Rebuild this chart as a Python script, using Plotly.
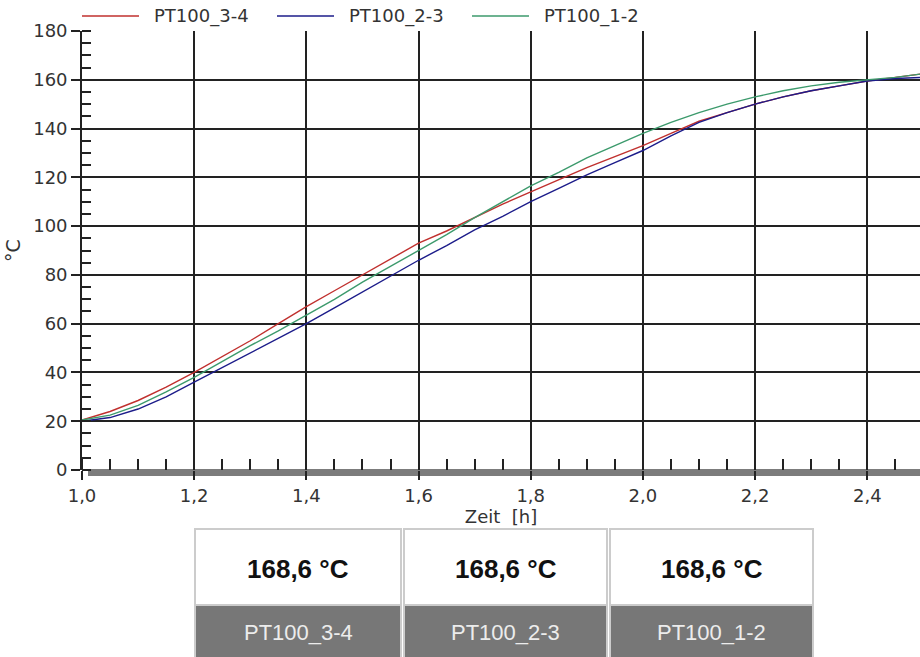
import plotly.graph_objects as go

# ---- data ----
zeit_h = [1.00, 1.05, 1.10, 1.15, 1.20, 1.25, 1.30, 1.35, 1.40, 1.45, 1.50,
          1.55, 1.60, 1.65, 1.70, 1.75, 1.80, 1.85, 1.90, 1.95, 2.00,
          2.05, 2.10, 2.15, 2.20, 2.25, 2.30, 2.35, 2.40, 2.45, 2.50]
pt100_3_4 = [20.5, 24, 28.5, 34, 40, 46.5, 53, 60, 67, 73.5, 80,
             86.5, 93, 98, 103.5, 109, 114, 119, 124, 128.5, 133,
             138, 143, 146.5, 150, 153, 155.5, 157.5, 159.5, 161, 162.5]
pt100_2_3 = [20, 21.5, 25, 30, 36, 42, 48, 54, 60, 66.5, 73,
             79.5, 86, 92, 98.5, 104, 110, 115.5, 121, 126, 131,
             137, 142.5, 146.5, 150, 153, 155.5, 157.5, 159.5, 160.5, 161]
pt100_1_2 = [20.5, 22.5, 26.5, 32, 38, 44.5, 51, 57, 63.5, 70, 77,
             83.5, 90, 96.5, 103.5, 110, 116.5, 122, 128, 133, 138,
             142.5, 146.5, 150, 153, 155.5, 157.5, 159, 160, 161, 162.5]
series_names = ["PT100_3-4", "PT100_2-3", "PT100_1-2"]
series_colors = ["#c0302e", "#1c1c8a", "#3c9a6c"]
table_values = ["168,6 °C", "168,6 °C", "168,6 °C"]
x_ticks = [1.0, 1.2, 1.4, 1.6, 1.8, 2.0, 2.2, 2.4]
y_ticks = [0, 20, 40, 60, 80, 100, 120, 140, 160, 180]

fig = go.Figure()
for name, ys, col in zip(series_names, [pt100_3_4, pt100_2_3, pt100_1_2], series_colors):
    fig.add_trace(go.Scatter(x=zeit_h, y=ys, mode="lines", name=name,
                             line=dict(color=col, width=1.4), showlegend=False))

W, H = 920, 657
L, R, T, B = 82, 0, 31, 187
pw, ph = W - L - R, H - T - B


def px_x(p):
    return (p - L) / pw


def px_y(p):
    return (H - B - p) / ph


shapes = []
annotations = []

# gray axis bar under the zero line
shapes.append(dict(type="rect", xref="paper", yref="paper", layer="below",
                   x0=px_x(88), x1=1.0, y0=px_y(476), y1=px_y(469),
                   fillcolor="#7c7c7c", line=dict(width=0)))

# legend (line sample + label) at the top
legend_x = [82, 277, 472]
for lx, name, col in zip(legend_x, series_names, series_colors):
    shapes.append(dict(type="line", xref="paper", yref="paper",
                       x0=px_x(lx), x1=px_x(lx + 57), y0=px_y(16), y1=px_y(16),
                       line=dict(color=col, width=1.3)))
    annotations.append(dict(xref="paper", yref="paper", x=px_x(lx + 70), y=px_y(16),
                            xanchor="left", yanchor="middle", text=name, showarrow=False,
                            font=dict(family="DejaVu Sans", size=18, color="#333")))

# value table below the chart
cells = [(195, 401), (404, 607), (610, 813)]
for (x0, x1), val, name in zip(cells, table_values, series_names):
    shapes.append(dict(type="rect", xref="paper", yref="paper",
                       x0=px_x(x0), x1=px_x(x1), y0=px_y(605), y1=px_y(529),
                       fillcolor="white", line=dict(color="#cccccc", width=2)))
    shapes.append(dict(type="rect", xref="paper", yref="paper",
                       x0=px_x(x0), x1=px_x(x1), y0=px_y(660), y1=px_y(605),
                       fillcolor="#777777", line=dict(color="#cccccc", width=2)))
    annotations.append(dict(xref="paper", yref="paper", x=px_x((x0 + x1) / 2), y=px_y(569),
                            xanchor="center", yanchor="middle",
                            text="<b>%s</b>" % val, showarrow=False,
                            font=dict(family="Liberation Sans, Arial", size=26, color="#111")))
    annotations.append(dict(xref="paper", yref="paper", x=px_x((x0 + x1) / 2), y=px_y(632),
                            xanchor="center", yanchor="middle",
                            text=name, showarrow=False,
                            font=dict(family="Liberation Sans, Arial", size=22, color="#ececec")))

fig.update_layout(
    width=W, height=H,
    margin=dict(l=L, r=R, t=T, b=B, pad=0),
    paper_bgcolor="white", plot_bgcolor="white",
    separators=",.",
    font=dict(family="DejaVu Sans, Verdana", size=18, color="#333"),
    showlegend=False,
    xaxis=dict(range=[1.0, 2.494], tickvals=x_ticks, tickformat=".1f",
               showgrid=True, gridcolor="#222", gridwidth=1.7,
               showline=False, zeroline=False,
               ticks="outside", ticklen=9, tickcolor="#222", tickwidth=1.7,
               minor=dict(dtick=0.05, ticks="inside", ticklen=11, tickcolor="#222",
                          tickwidth=1.7, showgrid=False),
               title=dict(text="Zeit  [h]", font=dict(size=18, color="#333"), standoff=4),
               tickfont=dict(size=18, color="#333")),
    yaxis=dict(range=[0, 180], tickvals=y_ticks,
               showgrid=True, gridcolor="#222", gridwidth=1.7,
               showline=True, linecolor="#222", linewidth=1.7,
               ticks="outside", ticklen=9, tickcolor="#222", tickwidth=1.7,
               zeroline=False,
               minor=dict(dtick=5, ticks="inside", ticklen=9, tickcolor="#222",
                          tickwidth=1.7, showgrid=False),
               title=dict(text="°C", font=dict(size=19, color="#333"), standoff=8),
               tickfont=dict(size=18, color="#333")),
    shapes=shapes,
    annotations=annotations,
)

fig.write_html("out.html", config={"displayModeBar": False},
               post_script="document.body.style.margin='0';document.body.style.overflow='hidden';")
